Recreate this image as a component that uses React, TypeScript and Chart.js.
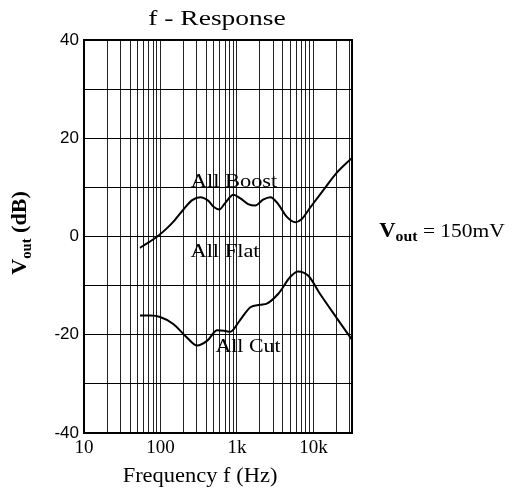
import React, { useEffect, useRef } from "react";
import { Chart, registerables } from "chart.js";

Chart.register(...registerables);

const boostFreq = [54, 70, 91, 120, 155, 200, 260, 331, 420, 500, 590, 700, 900, 1100, 1400, 1740, 2200, 2740, 3500, 4500, 5800, 7000, 9200, 14400, 20000, 32000];
const boostDb = [-2.3, -1.2, 0, 1.6, 3.4, 5.5, 7.4, 8, 7.3, 6, 5.5, 6.8, 8.5, 7.8, 6.6, 6.3, 7.5, 8, 6.5, 4, 2.9, 3.5, 6, 10, 12.9, 16];

const flatFreq = [54, 32000];
const flatDb = [0, 0];

const cutFreq = [54, 75, 99, 147, 220, 302, 410, 553, 680, 816, 1100, 1500, 2000, 2500, 3500, 5000, 6300, 8600, 12000, 20000, 32000];
const cutDb = [-16.1, -16.1, -16.4, -17.8, -20.5, -22.2, -21.2, -19.1, -19.2, -19.4, -17, -14.4, -13.9, -13.6, -11.6, -8.2, -7.1, -8, -11.5, -16.5, -21];

const xMin = 10;
const xMax = 32000;
const yMin = -40;
const yMax = 40;
const xTickLabels: Record<number, string> = { 10: "10", 100: "100", 1000: "1k", 10000: "10k" };
const yLabelStep = 20;

const SERIF = '"Liberation Serif", "Times New Roman", serif';
const SANS = '"Liberation Sans", Arial, sans-serif';

type Part = { text: string; font: string; dy?: number };

function drawParts(ctx: CanvasRenderingContext2D, parts: Part[], cx: number, cy: number, sx: number, rot = 0) {
  ctx.save();
  ctx.translate(cx, cy);
  if (rot) ctx.rotate(rot);
  ctx.scale(sx, 1);
  let total = 0;
  const widths = parts.map((p) => {
    ctx.font = p.font;
    const w = ctx.measureText(p.text).width;
    total += w;
    return w;
  });
  let x = -total / 2;
  ctx.fillStyle = "#000";
  ctx.textAlign = "left";
  ctx.textBaseline = "alphabetic";
  parts.forEach((p, i) => {
    ctx.font = p.font;
    ctx.fillText(p.text, x, p.dy || 0);
    x += widths[i];
  });
  ctx.restore();
}

const textPlugin = {
  id: "texts",
  afterDraw(chart: any) {
    const ctx: CanvasRenderingContext2D = chart.ctx;
    const a = chart.chartArea;
    ctx.save();
    ctx.strokeStyle = "#000";
    ctx.lineWidth = 2;
    ctx.strokeRect(a.left, a.top, a.right - a.left, a.bottom - a.top);
    ctx.restore();

    drawParts(ctx, [{ text: "f - Response", font: `22px ${SERIF}` }], 217, 25, 1.25);
    drawParts(ctx, [{ text: "Frequency f (Hz)", font: `21px ${SERIF}` }], 200, 482, 1.07);
    drawParts(
      ctx,
      [
        { text: "V", font: `bold 21px ${SERIF}` },
        { text: "out", font: `bold 14px ${SERIF}`, dy: 5 },
        { text: " (dB)", font: `bold 21px ${SERIF}` },
      ],
      26,
      233,
      1.05,
      -Math.PI / 2
    );
    drawParts(ctx, [{ text: "All Boost", font: `19px ${SERIF}` }], 234, 187, 1.18);
    drawParts(ctx, [{ text: "All Flat", font: `19px ${SERIF}` }], 225, 257, 1.18);
    drawParts(ctx, [{ text: "All Cut", font: `19px ${SERIF}` }], 248, 352, 1.15);
    drawParts(
      ctx,
      [
        { text: "V", font: `bold 20px ${SERIF}` },
        { text: "out", font: `bold 14px ${SERIF}`, dy: 4 },
        { text: " = 150mV", font: `19px ${SERIF}` },
      ],
      442,
      237,
      1.13
    );
  },
};

export default function App() {
  const ref = useRef<HTMLCanvasElement | null>(null);
  useEffect(() => {
    document.body.style.margin = "0";
    const canvas = ref.current!;
    const mk = (fs: number[], ds: number[]) => fs.map((f, i) => ({ x: f, y: ds[i] }));
    const chart = new Chart(canvas, {
      type: "line",
      data: {
        datasets: [
          { label: "All Boost", data: mk(boostFreq, boostDb), borderColor: "#000", borderWidth: 2, pointRadius: 0, cubicInterpolationMode: "monotone", fill: false },
          { label: "All Flat", data: mk(flatFreq, flatDb), borderColor: "#000", borderWidth: 1, pointRadius: 0, fill: false },
          { label: "All Cut", data: mk(cutFreq, cutDb), borderColor: "#000", borderWidth: 2, pointRadius: 0, cubicInterpolationMode: "monotone", fill: false },
        ],
      },
      options: {
        responsive: false,
        animation: false,
        devicePixelRatio: 1,
        layout: { padding: { top: 40, right: 160, left: 0, bottom: 0 } },
        plugins: { legend: { display: false }, title: { display: false }, tooltip: { enabled: false } },
        scales: {
          x: {
            type: "logarithmic",
            min: xMin,
            max: xMax,
            afterBuildTicks: (scale: any) => {
              const ticks: any[] = [];
              for (let d = 10; d <= xMax; d *= 10) {
                for (let m = 1; m <= 9; m++) {
                  const v = d * m;
                  if (v <= xMax) ticks.push({ value: v });
                }
              }
              scale.ticks = ticks;
            },
            afterFit: (scale: any) => {
              scale.height = 496 - 433;
            },
            grid: { color: "#222", lineWidth: 1, drawTicks: false },
            border: { display: false },
            ticks: {
              autoSkip: false,
              maxRotation: 0,
              padding: 4,
              color: "#000",
              font: { family: SERIF, size: 19 },
              callback: (v: any) => xTickLabels[Math.round(Number(v))] || "",
            },
          },
          y: {
            min: yMin,
            max: yMax,
            afterFit: (scale: any) => {
              scale.width = 84;
            },
            grid: { color: "#000", lineWidth: 1, drawTicks: false },
            border: { display: false },
            ticks: {
              stepSize: 10,
              padding: 5,
              color: "#000",
              font: { family: SANS, size: 17 },
              callback: (v: any) => (Number(v) % yLabelStep === 0 ? String(v) : ""),
            },
          },
        },
      },
      plugins: [textPlugin],
    } as any);
    return () => chart.destroy();
  }, []);
  return (
    <div style={{ position: "absolute", left: 0, top: 0, width: 512, height: 496, background: "#fff" }}>
      <canvas ref={ref} width={512} height={496} style={{ display: "block", width: 512, height: 496 }} />
    </div>
  );
}
